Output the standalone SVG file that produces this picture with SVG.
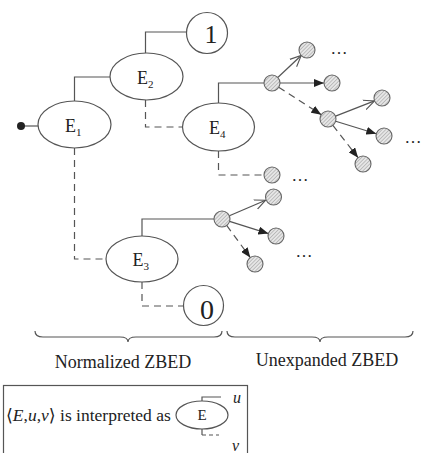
<svg xmlns="http://www.w3.org/2000/svg" width="422" height="453" viewBox="0 0 422 453" font-family="'Liberation Serif', 'DejaVu Serif', serif">
  <style>
    .ln { fill: none; stroke: #555; stroke-width: 1.2; }
    .dash { stroke-dasharray: 7 5; }
    .ell { fill: #fff; stroke: #555; stroke-width: 1.2; }
    .hn { fill: url(#hatch); stroke: #666; stroke-width: 1.1; }
    text { font-family: 'Liberation Serif', 'DejaVu Serif', serif; fill: #222; }
    .lbl { font-size: 18px; }
    .sub { font-size: 11px; }
    .dots { font-size: 17px; text-anchor: middle; }
  </style>
  <defs>
    <pattern id="hatch" width="2.6" height="2.6" patternUnits="userSpaceOnUse" patternTransform="rotate(45)">
      <rect width="2.6" height="2.6" fill="#e6e6e6"/>
      <line x1="0" y1="0" x2="0" y2="2.6" stroke="#8a8a8a" stroke-width="0.9"/>
    </pattern>
    <marker id="open" viewBox="0 0 12 12" refX="11" refY="6" markerWidth="12" markerHeight="12" markerUnits="userSpaceOnUse" orient="auto">
      <path d="M0,1 L11,6 L0,11" fill="none" stroke="#555" stroke-width="1.1"/>
    </marker>
    <marker id="fill" viewBox="0 0 10 8" refX="10" refY="4" markerWidth="10" markerHeight="8" markerUnits="userSpaceOnUse" orient="auto">
      <path d="M0,0 L10,4 L0,8 Z" fill="#222"/>
    </marker>
  </defs>

  <rect width="422" height="453" fill="#fff"/>

  <!-- connectors -->
  <g id="connectors">
    <line class="ln" x1="21" y1="126" x2="38" y2="126"/>
    <!-- E1 high / low -->
    <polyline class="ln" points="74.5,101 74.5,77 110,77"/>
    <polyline class="ln dash" points="74.5,148 74.5,259 106,259"/>
    <!-- E2 high / low -->
    <polyline class="ln" points="145.5,53 145.5,32 186.5,32"/>
    <polyline class="ln dash" points="145.5,100 145.5,127 182.5,127"/>
    <!-- E4 high / low -->
    <polyline class="ln" points="218.5,103 218.5,83 264,83"/>
    <polyline class="ln dash" points="218.5,151 218.5,175 264,175"/>
    <!-- E3 high / low -->
    <polyline class="ln" points="142,236 142,219 214,219"/>
    <polyline class="ln dash" points="142,282 142,306 183,306"/>
    <!-- unexpanded branches -->
    <line class="ln" x1="277.8" y1="77.5" x2="301.2" y2="55.5" marker-end="url(#open)"/>
    <line class="ln" x1="280" y1="83" x2="324" y2="83" marker-end="url(#fill)"/>
    <line class="ln dash" x1="278.7" y1="87.3" x2="321.3" y2="114.7" marker-end="url(#fill)"/>
    <line class="ln" x1="335.5" y1="116.1" x2="374.5" y2="100.9" marker-end="url(#open)"/>
    <line class="ln" x1="335.7" y1="121.3" x2="376.3" y2="133.7" marker-end="url(#fill)"/>
    <line class="ln dash" x1="332.9" y1="125.3" x2="358.1" y2="157.7" marker-end="url(#fill)"/>
    <line class="ln" x1="229.4" y1="215.8" x2="265.6" y2="200.2" marker-end="url(#open)"/>
    <line class="ln" x1="229.6" y1="221.4" x2="268.4" y2="233.6" marker-end="url(#fill)"/>
    <line class="ln dash" x1="226.7" y1="225.4" x2="250.3" y2="257.6" marker-end="url(#fill)"/>
  </g>

  <!-- root marker -->
  <circle id="root" cx="21" cy="126" r="4" fill="#222"/>

  <g id="E1">
    <ellipse class="ell" cx="74.5" cy="124.5" rx="36.5" ry="23.5"/>
    <text class="lbl" x="65" y="132">E<tspan class="sub" dy="4">1</tspan></text>
  </g>
  <g id="E2">
    <ellipse class="ell" cx="146.5" cy="76.5" rx="36.5" ry="23.5"/>
    <text class="lbl" x="137" y="84">E<tspan class="sub" dy="4">2</tspan></text>
  </g>
  <g id="E4">
    <ellipse class="ell" cx="218.5" cy="127" rx="36" ry="24"/>
    <text class="lbl" x="209" y="134">E<tspan class="sub" dy="4">4</tspan></text>
  </g>
  <g id="E3">
    <ellipse class="ell" cx="142" cy="259" rx="36" ry="23"/>
    <text class="lbl" x="132.5" y="266">E<tspan class="sub" dy="4">3</tspan></text>
  </g>
  <g id="T1">
    <circle class="ell" cx="207" cy="33" r="20.5"/>
    <text x="211" y="43" font-size="26" text-anchor="middle">1</text>
  </g>
  <g id="T0">
    <circle class="ell" cx="203.5" cy="305.5" r="20"/>
    <text x="207" y="319" font-size="28" text-anchor="middle">0</text>
  </g>

  <!-- unexpanded nodes -->
  <g id="nA"><circle class="hn" cx="272" cy="83" r="8"/></g>
  <g id="nB"><circle class="hn" cx="307" cy="50" r="8"/></g>
  <g id="nC"><circle class="hn" cx="332" cy="83" r="8"/></g>
  <g id="nD"><circle class="hn" cx="328" cy="119" r="8"/></g>
  <g id="nE"><circle class="hn" cx="382" cy="98" r="8"/></g>
  <g id="nF"><circle class="hn" cx="384" cy="136" r="8"/></g>
  <g id="nG"><circle class="hn" cx="363" cy="164" r="8"/></g>
  <g id="nH"><circle class="hn" cx="272" cy="175" r="8"/></g>
  <g id="nI"><circle class="hn" cx="222" cy="219" r="8"/></g>
  <g id="nJ"><circle class="hn" cx="273.5" cy="197" r="8"/></g>
  <g id="nK"><circle class="hn" cx="276" cy="236" r="8"/></g>
  <g id="nL"><circle class="hn" cx="255" cy="264" r="8"/></g>

  <text class="dots" x="339" y="54">…</text>
  <text class="dots" x="413" y="143">…</text>
  <text class="dots" x="300" y="181">…</text>
  <text class="dots" x="304" y="257">…</text>

  <!-- braces -->
  <path class="ln" d="M35,331 Q35,337 43,337 L120,337 Q128,337 128,342 Q128,337 136,337 L214,337 Q222,337 222,331"/>
  <path class="ln" d="M227,331 Q227,337 235,337 L312,337 Q320,337 320,342 Q320,337 328,337 L405,337 Q413,337 413,331"/>
  <text class="lbl" x="123" y="368" text-anchor="middle">Normalized ZBED</text>
  <text class="lbl" x="327" y="366" text-anchor="middle">Unexpanded ZBED</text>

  <!-- legend -->
  <g id="legend">
    <rect x="3.5" y="385.5" width="244" height="80" fill="none" stroke="#555" stroke-width="1.2"/>
    <text x="6" y="421" font-size="17.5">⟨<tspan font-style="italic">E</tspan>,<tspan font-style="italic">u</tspan>,<tspan font-style="italic">v</tspan>⟩ is interpreted as</text>
    <polyline class="ln" points="202,401 202,397 221,397"/>
    <polyline class="ln" points="202,429 202,435"/>
    <line class="ln" x1="202" y1="435" x2="219" y2="435" stroke-dasharray="4 3"/>
    <ellipse class="ell" cx="202" cy="415" rx="26" ry="14"/>
    <text x="202" y="420" font-size="15" text-anchor="middle">E</text>
    <text x="233" y="403" font-size="16" font-style="italic">u</text>
    <text x="232" y="451" font-size="16" font-style="italic">v</text>
  </g>
</svg>
